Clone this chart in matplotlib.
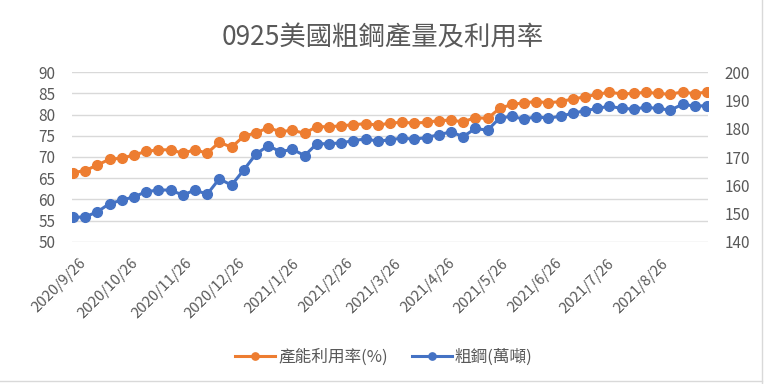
import matplotlib
matplotlib.use('Agg')
import matplotlib.pyplot as plt
import matplotlib.dates as mdates
import matplotlib.transforms as mtransforms
from matplotlib.lines import Line2D
import pandas as pd

plt.rcParams['font.family'] = ['Noto Sans CJK TC', 'DejaVu Sans']

# weekly data (week ending)
weeks = ['2020-09-26', '2020-10-03', '2020-10-10', '2020-10-17', '2020-10-24', '2020-10-31',
         '2020-11-07', '2020-11-14', '2020-11-21', '2020-11-28', '2020-12-05', '2020-12-12',
         '2020-12-19', '2020-12-26', '2021-01-02', '2021-01-09', '2021-01-16', '2021-01-23',
         '2021-01-30', '2021-02-06', '2021-02-13', '2021-02-20', '2021-02-27', '2021-03-06',
         '2021-03-13', '2021-03-20', '2021-03-27', '2021-04-03', '2021-04-10', '2021-04-17',
         '2021-04-24', '2021-05-01', '2021-05-08', '2021-05-15', '2021-05-22', '2021-05-29',
         '2021-06-05', '2021-06-12', '2021-06-19', '2021-06-26', '2021-07-03', '2021-07-10',
         '2021-07-17', '2021-07-24', '2021-07-31', '2021-08-07', '2021-08-14', '2021-08-21',
         '2021-08-28', '2021-09-04', '2021-09-11', '2021-09-18', '2021-09-25']

# 產能利用率(%) - left axis
utilization = [66.3, 66.8, 68.1, 69.5, 69.7, 70.5, 71.3, 71.7, 71.7, 70.9,
               71.7, 70.9, 73.5, 72.3, 74.9, 75.7, 76.9, 76.0, 76.3, 75.6,
               77.2, 77.1, 77.4, 77.6, 77.9, 77.5, 78.0, 78.2, 78.0, 78.2,
               78.6, 78.7, 78.3, 79.3, 79.1, 81.5, 82.4, 82.8, 83.1, 82.8,
               83.1, 83.7, 84.2, 84.8, 85.3, 84.9, 85.0, 85.3, 85.0, 84.8,
               85.4, 84.9, 85.4]

# 粗鋼(萬噸) - right axis
crude_steel = [148.6, 148.8, 150.6, 153.5, 154.7, 155.9, 157.7, 158.3, 158.3, 156.5,
               158.3, 156.8, 162.3, 160.0, 165.4, 171.0, 174.0, 171.9, 172.7, 170.5,
               174.7, 174.7, 175.0, 175.8, 176.4, 175.6, 176.1, 176.7, 176.3, 176.9,
               177.9, 178.9, 177.2, 180.1, 179.5, 183.8, 184.4, 183.4, 184.3, 183.7,
               184.5, 185.5, 186.4, 187.2, 188.0, 187.2, 187.0, 187.6, 187.2, 186.6,
               188.7, 188.0, 188.2]

left_ticks = [50, 55, 60, 65, 70, 75, 80, 85, 90]
right_ticks = [140, 150, 160, 170, 180, 190, 200]

orange = '#ED7D31'
blue = '#4472C4'
grey_txt = '#595959'

dates = pd.to_datetime(weeks)

fig = plt.figure(figsize=(7.65, 3.84), dpi=100)
W, H = 765, 384
ax = fig.add_axes([72 / W, 1 - 241.7 / H, (708 - 72) / W, (241.7 - 72.3) / H])
ax2 = ax.twinx()

ax.plot(dates, utilization, color=orange, lw=2.2, marker='o', ms=7, label='產能利用率(%)')
ax2.plot(dates, crude_steel, color=blue, lw=2.2, marker='o', ms=7, label='粗鋼(萬噸)')

ax.set_xlim(dates[0] - pd.Timedelta(days=0.6), dates[-1] + pd.Timedelta(days=0.6))
ax.set_ylim(left_ticks[0], left_ticks[-1])
ax2.set_ylim(right_ticks[0], right_ticks[-1])
ax.set_yticks(left_ticks)
ax2.set_yticks(right_ticks)
ax.yaxis.grid(True, color='#D9D9D9', lw=1)
ax.set_axisbelow(True)

for a in (ax, ax2):
    for s in a.spines.values():
        s.set_visible(False)
ax.tick_params(axis='y', length=0, pad=12, labelsize=11, labelcolor=grey_txt)
ax2.tick_params(axis='y', length=0, pad=12, labelsize=11, labelcolor=grey_txt)

# monthly ticks on the 26th
ax.xaxis.set_major_locator(mdates.MonthLocator(bymonthday=26))
ax.xaxis.set_major_formatter(plt.FuncFormatter(
    lambda v, pos: '{0.year}/{0.month}/{0.day}'.format(mdates.num2date(v))))
ax.tick_params(axis='x', length=0, pad=14, labelsize=10.8, labelcolor=grey_txt)
shift = mtransforms.ScaledTranslation(11 / 100, 0, fig.dpi_scale_trans)
for lab in ax.get_xticklabels():
    lab.set_rotation(45)
    lab.set_ha('right')
    lab.set_va('center')
    lab.set_rotation_mode('anchor')
    lab.set_transform(lab.get_transform() + shift)

fig.text(0.5, 1 - 38 / H, '0925美國粗鋼產量及利用率', ha='center', va='center',
         fontsize=19, color=grey_txt)

h1, l1 = ax.get_legend_handles_labels()
h2, l2 = ax2.get_legend_handles_labels()
leg = fig.legend(h1 + h2, l1 + l2, loc='center', bbox_to_anchor=(384 / W, 1 - 357 / H),
                 ncol=2, frameon=False, fontsize=12, handlelength=2.4,
                 handletextpad=0.2, columnspacing=1.4, markerscale=0.75)
for t in leg.get_texts():
    t.set_color(grey_txt)

# chart border
fig.add_artist(Line2D([762 / W, 762 / W], [0, 1], color='#D9D9D9', lw=1))
fig.add_artist(Line2D([0, 762 / W], [3 / H, 3 / H], color='#D9D9D9', lw=1))

fig.savefig('out.png', dpi=100)
